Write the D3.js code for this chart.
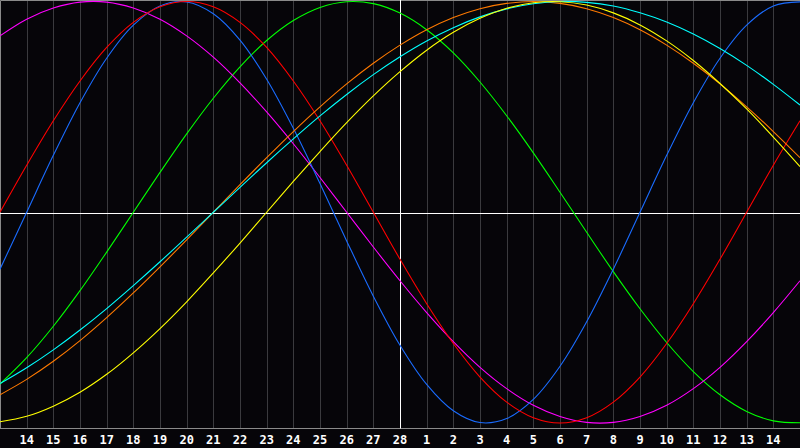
<!DOCTYPE html>
<html>
<head>
<meta charset="utf-8">
<script src="https://cdn.jsdelivr.net/npm/d3@7"></script>
<style>
  html, body { margin: 0; padding: 0; background: #060509; }
  svg { display: block; }
</style>
</head>
<body>
<div id="chart"></div>
<script>
// day labels for the 29 gridlines (index 1..29), index 0 and 30 are the edges
const dayLabels = ['14','15','16','17','18','19','20','21','22','23','24','25','26','27','28',
  '1','2','3','4','5','6','7','8','9','10','11','12','13','14'];
const todayIndex = 15;

// cycle values per day, index 0..30 (-1 .. 1)
const green = [-0.815,-0.690,-0.541,-0.372,-0.189,0,0.189,0.372,0.541,0.690,0.815,0.910,0.972,0.999,0.990,
  0.945,0.866,0.756,0.618,0.458,0.282,0.095,-0.095,-0.282,-0.458,-0.618,-0.756,-0.866,-0.945,-0.990,-0.999];
const magenta = [0.837,0.916,0.969,0.997,0.997,0.969,0.916,0.837,0.736,0.614,0.476,0.325,0.165,0,-0.165,
  -0.325,-0.476,-0.614,-0.736,-0.837,-0.916,-0.969,-0.997,-0.997,-0.969,-0.916,-0.837,-0.736,-0.614,-0.476,-0.325];
const blue = [-0.270,0,0.270,0.520,0.731,0.888,0.979,0.998,0.942,0.817,0.631,0.398,0.136,-0.136,-0.398,
  -0.631,-0.817,-0.942,-0.998,-0.979,-0.888,-0.731,-0.520,-0.270,0,0.270,0.520,0.731,0.888,0.979,0.998];
const red = [0,0.223,0.434,0.623,0.782,0.901,0.975,1,0.975,0.901,0.782,0.623,0.434,0.223,0,
  -0.223,-0.434,-0.623,-0.782,-0.901,-0.975,-1,-0.975,-0.901,-0.782,-0.623,-0.434,-0.223,0,0.223,0.434];
const orange = [-0.866,-0.793,-0.707,-0.609,-0.5,-0.383,-0.259,-0.131,0,0.131,0.259,0.383,0.5,0.609,0.707,
  0.793,0.866,0.924,0.966,0.991,1,0.991,0.966,0.924,0.866,0.793,0.707,0.609,0.5,0.383,0.259];
const cyan = [-0.813,-0.738,-0.653,-0.559,-0.457,-0.348,-0.235,-0.118,0,0.118,0.235,0.348,0.457,0.559,0.653,
  0.738,0.813,0.876,0.927,0.965,0.989,1.0,0.996,0.979,0.947,0.903,0.846,0.777,0.697,0.607,0.509];
const yellow = [-0.994,-0.968,-0.920,-0.854,-0.769,-0.667,-0.552,-0.425,-0.288,-0.146,0,0.146,0.288,0.425,0.552,
  0.667,0.769,0.854,0.920,0.968,0.994,0.999,0.983,0.946,0.889,0.813,0.720,0.611,0.490,0.357,0.217];

const series = [
  { name: 'green', color: '#00ff00', values: green },
  { name: 'magenta', color: '#ff00ff', values: magenta },
  { name: 'blue', color: '#1a6cff', values: blue },
  { name: 'red', color: '#ff0000', values: red },
  { name: 'orange', color: '#ff7a00', values: orange },
  { name: 'cyan', color: '#00ffff', values: cyan },
  { name: 'yellow', color: '#ffff00', values: yellow }
];

const width = 800, height = 448;
const plotBottom = 428.5;

const svg = d3.select('#chart').append('svg')
  .attr('width', width)
  .attr('height', height)
  .style('background', '#060509');

const x = d3.scaleLinear().domain([0, 30]).range([0, width]);
const y = d3.scaleLinear().domain([-1, 1]).range([423, 1.5]);

// vertical day gridlines
svg.append('g')
  .selectAll('line')
  .data(d3.range(1, 30))
  .join('line')
  .attr('x1', d => Math.round(x(d)) + 0.5)
  .attr('x2', d => Math.round(x(d)) + 0.5)
  .attr('y1', 0)
  .attr('y2', plotBottom)
  .attr('stroke', '#3a3a3e')
  .attr('stroke-width', 1);

// frame: left, top and bottom axis line
svg.append('path')
  .attr('d', `M0.5,${plotBottom}V0.5H${width}M0,${plotBottom}H${width}`)
  .attr('fill', 'none')
  .attr('stroke', '#8a8a8a')
  .attr('stroke-width', 1);

// zero line and today marker
svg.append('line')
  .attr('x1', 0).attr('x2', width)
  .attr('y1', Math.round(y(0)) + 1.5).attr('y2', Math.round(y(0)) + 1.5)
  .attr('stroke', '#ffffff');
svg.append('line')
  .attr('x1', Math.round(x(todayIndex)) + 0.5).attr('x2', Math.round(x(todayIndex)) + 0.5)
  .attr('y1', 0).attr('y2', plotBottom)
  .attr('stroke', '#ffffff');

// cycle curves
const line = d3.line()
  .x((d, i) => x(i))
  .y(d => y(d))
  .curve(d3.curveCatmullRom.alpha(0.5));

svg.append('g')
  .selectAll('path')
  .data(series)
  .join('path')
  .attr('d', d => line(d.values))
  .attr('fill', 'none')
  .attr('stroke', d => d.color)
  .attr('stroke-width', 1.1);

// day labels
svg.append('g')
  .selectAll('text')
  .data(dayLabels)
  .join('text')
  .attr('x', (d, i) => x(i + 1))
  .attr('y', 443.5)
  .attr('text-anchor', 'middle')
  .attr('fill', '#ffffff')
  .style('font-family', '"DejaVu Sans Mono", monospace')
  .style('font-weight', 'bold')
  .style('font-size', '12px')
  .text(d => d);
</script>
</body>
</html>
